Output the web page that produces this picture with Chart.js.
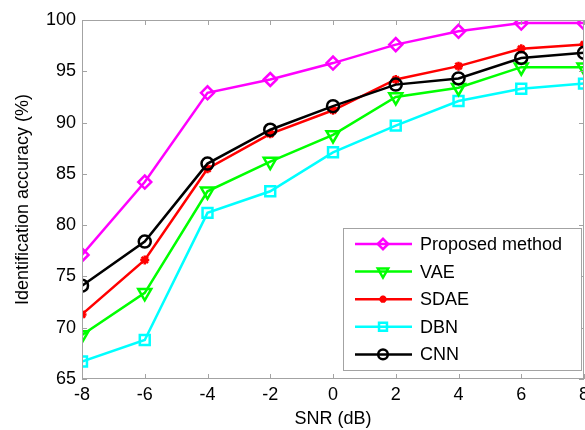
<!DOCTYPE html>
<html>
<head>
<meta charset="utf-8">
<script src="https://cdn.jsdelivr.net/npm/chart.js@4"></script>
<style>
  body { margin: 0; background: #fff; }
  canvas { display: block; }
</style>
</head>
<body>
<canvas id="accChart" width="585" height="430"></canvas>
<script>
// SNR values (dB)
let snr = [-8, -6, -4, -2, 0, 2, 4, 6, 8];

// identification accuracy (%)
let proposed = [77.1, 84.2, 92.9, 94.2, 95.8, 97.6, 98.9, 99.7, 99.7];
let vae      = [69.3, 73.4, 83.3, 86.2, 88.8, 92.5, 93.4, 95.4, 95.4];
let sdae     = [71.3, 76.6, 85.5, 88.9, 91.2, 94.2, 95.5, 97.2, 97.6];
let dbn      = [66.7, 68.8, 81.2, 83.3, 87.1, 89.7, 92.1, 93.3, 93.8];
let cnn      = [74.1, 78.4, 86.0, 89.3, 91.6, 93.7, 94.3, 96.3, 96.8];

let series_names = ['Proposed method', 'VAE', 'SDAE', 'DBN', 'CNN'];
let y_ticks = [65, 70, 75, 80, 85, 90, 95, 100];

const FONT = "'Liberation Sans', Arial, sans-serif";

function toPoints(vals) {
  return vals.map((v, i) => ({ x: snr[i], y: v }));
}

function makeSet(label, vals, color, style, radius, rotation, order) {
  return {
    label: label,
    data: toPoints(vals),
    borderColor: color,
    backgroundColor: 'rgba(0,0,0,0)',
    borderWidth: 2.5,
    pointStyle: style,
    pointRadius: radius,
    pointRotation: rotation,
    pointBorderWidth: 2.5,
    pointBorderColor: color,
    pointBackgroundColor: 'rgba(0,0,0,0)',
    tension: 0,
    order: order
  };
}

// frame, inward ticks and legend box
const framePlugin = {
  id: 'frame',
  afterDraw(chart) {
    const ctx = chart.ctx;
    const a = chart.chartArea;
    const xs = chart.scales.x, ys = chart.scales.y;
    ctx.save();
    ctx.strokeStyle = '#a3a3a3';
    ctx.lineWidth = 1;
    ctx.strokeRect(a.left + 0.5, a.top + 0.5, a.right - a.left - 1, a.bottom - a.top - 1);
    ctx.beginPath();
    snr.forEach(v => {
      if (v % 2 !== 0) return;
      let px = Math.round(xs.getPixelForValue(v)) + 0.5;
      ctx.moveTo(px, a.bottom); ctx.lineTo(px, a.bottom - 5);
      ctx.moveTo(px, a.top); ctx.lineTo(px, a.top + 5);
    });
    y_ticks.forEach(v => {
      let py = Math.round(ys.getPixelForValue(v)) + 0.5;
      ctx.moveTo(a.left, py); ctx.lineTo(a.left + 5, py);
      ctx.moveTo(a.right, py); ctx.lineTo(a.right - 5, py);
    });
    ctx.stroke();

    // legend
    let bx = 343, by = 228, bw = 238, bh = 142;
    ctx.fillStyle = '#fff';
    ctx.fillRect(bx, by, bw, bh);
    ctx.strokeStyle = '#a3a3a3';
    ctx.strokeRect(bx + 0.5, by + 0.5, bw, bh);
    ctx.font = '18px ' + FONT;
    ctx.textBaseline = 'middle';
    ctx.textAlign = 'left';
    series_names.forEach((name, i) => {
      const ds = chart.data.datasets.find(d => d.label === name);
      let ry = 244 + i * 27.6;
      ctx.strokeStyle = ds.borderColor;
      ctx.lineWidth = 2.5;
      ctx.beginPath();
      ctx.moveTo(355, ry); ctx.lineTo(412, ry);
      ctx.stroke();
      ctx.fillStyle = 'rgba(0,0,0,0)';
      Chart.helpers.drawPoint(ctx, {
        pointStyle: ds.pointStyle,
        radius: ds.pointRadius * 0.8,
        rotation: ds.pointRotation,
        borderWidth: 2.5
      }, 383, ry);
      ctx.fillStyle = '#000';
      ctx.fillText(name, 420, ry + 1);
    });
    ctx.restore();
  }
};

let acc_ctx = document.getElementById('accChart').getContext('2d');
let acc_chart = new Chart(acc_ctx, {
  type: 'line',
  data: {
    datasets: [
      makeSet('Proposed method', proposed, '#ff00ff', 'rectRot', 6.5, 0, 0),
      makeSet('VAE', vae, '#00ff00', 'triangle', 7.5, 180, 3),
      makeSet('SDAE', sdae, '#ff0000', 'star', 4.5, 0, 2),
      makeSet('DBN', dbn, '#00ffff', 'rect', 7, 0, 4),
      makeSet('CNN', cnn, '#000000', 'circle', 6, 0, 1)
    ]
  },
  options: {
    responsive: false,
    animation: false,
    layout: { autoPadding: false, padding: { top: 20, right: 1, left: 0, bottom: 0 } },
    plugins: {
      legend: { display: false },
      tooltip: { enabled: false }
    },
    scales: {
      x: {
        type: 'linear',
        min: -8,
        max: 8,
        ticks: { stepSize: 2, color: '#000', font: { family: FONT, size: 18 }, padding: 5, maxRotation: 0 },
        grid: { display: false, drawTicks: false },
        border: { display: false },
        title: { display: true, text: 'SNR (dB)', color: '#000', font: { family: FONT, size: 18 }, padding: { top: 4, bottom: 0 } },
        afterFit(s) { s.height = 51; s.paddingLeft = 0; s.paddingRight = 0; }
      },
      y: {
        min: 65,
        max: 100,
        ticks: { stepSize: 5, color: '#000', font: { family: FONT, size: 18 }, padding: 6 },
        grid: { display: false, drawTicks: false },
        border: { display: false },
        title: { display: true, text: 'Identification accuracy (%)', color: '#000', font: { family: FONT, size: 18 }, padding: { top: 12, bottom: 0 } },
        afterFit(s) { s.width = 82; s.paddingTop = 0; s.paddingBottom = 0; }
      }
    }
  },
  plugins: [framePlugin]
});
</script>
</body>
</html>
